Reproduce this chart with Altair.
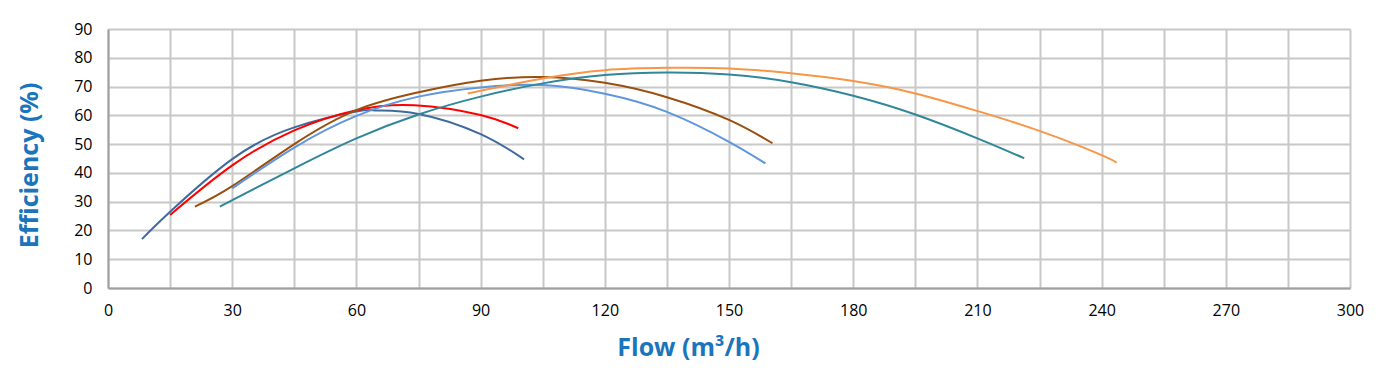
import altair as alt
import pandas as pd

# Flow (m3/h) / Efficiency (%) points per pump curve
db_x = [8.2, 15, 30, 45, 60, 65, 75, 90, 100.5]
db_y = [17.0, 26.5, 44.8, 55.8, 61.3, 61.7, 60.5, 53.5, 44.7]

red_x = [15.0, 30, 45, 60, 74, 90, 99.1]
red_y = [25.4, 42.6, 54.8, 61.8, 63.5, 60.1, 55.5]

brown_x = [21.0, 30, 45, 60, 75, 90, 105, 120, 135, 150, 160.5]
brown_y = [28.3, 35.4, 50.0, 61.8, 68.0, 72.0, 73.3, 71.3, 66.3, 58.4, 50.3]

lblue_x = [30.0, 45, 60, 75, 90, 105, 120, 135, 150, 158.8]
lblue_y = [34.6, 48.8, 59.8, 66.5, 69.7, 70.5, 67.5, 61.2, 50.8, 43.3]

teal_x = [27.0, 45, 60, 75, 90, 105, 120, 135, 150, 165, 180, 195, 210, 221.3]
teal_y = [28.3, 41.6, 52.0, 60.3, 66.5, 71.1, 74.0, 74.9, 74.2, 71.5, 66.8, 60.3, 52.0, 45.1]

orange_x = [86.9, 105, 120, 135, 150, 165, 180, 195, 210, 225, 240, 243.6]
orange_y = [67.6, 72.8, 75.7, 76.5, 76.3, 74.6, 71.9, 67.6, 61.5, 54.6, 46.2, 43.5]

series = ["S1", "S2", "S3", "S4", "S5", "S6"]
colors = ["#3F6A9C", "#FF0000", "#9A4F0F", "#5F96DE", "#31879A", "#F79646"]

x_ticks = list(range(0, 301, 15))
y_ticks = list(range(0, 91, 10))

rows = []
for name, xs, ys in zip(series,
                        [db_x, red_x, brown_x, lblue_x, teal_x, orange_x],
                        [db_y, red_y, brown_y, lblue_y, teal_y, orange_y]):
    for xv, yv in zip(xs, ys):
        rows.append({"series": name, "flow": xv, "eff": yv})
df = pd.DataFrame(rows)

title_color = "#1B75BC"

chart = alt.Chart(df).mark_line(strokeWidth=2, interpolate="natural").encode(
    x=alt.X("flow:Q",
            scale=alt.Scale(domain=[0, 300], nice=False),
            axis=alt.Axis(values=x_ticks, title="Flow (m³/h)",
                          labelExpr="datum.value % 30 == 0 ? datum.label : ''",
                          ticks=False, labelPadding=14, labelFont="Open Sans",
                          labelFontSize=16, labelColor="#000000",
                          gridColor="#C8C8C8", gridWidth=2,
                          domainColor="#A0A0A0", domainWidth=2,
                          titleFont="Open Sans", titleFontSize=25,
                          titleFontWeight="bold", titleColor=title_color,
                          titleX=580, titleY=59, titleAlign="center",
                          titleBaseline="middle", labelFlush=False)),
    y=alt.Y("eff:Q",
            scale=alt.Scale(domain=[0, 90], nice=False),
            axis=alt.Axis(values=y_ticks, title="Efficiency (%)",
                          ticks=False, labelPadding=16, labelFont="Open Sans",
                          labelFontSize=16, labelColor="#000000",
                          gridColor="#C8C8C8", gridWidth=2,
                          domainColor="#A0A0A0", domainWidth=2,
                          titleFont="Open Sans", titleFontSize=25,
                          titleFontWeight="bold", titleColor=title_color,
                          titleX=-79, titleY=136, titleAlign="center",
                          titleBaseline="middle", titleAngle=270,
                          labelFlush=False)),
    color=alt.Color("series:N", scale=alt.Scale(domain=series, range=colors),
                    legend=None),
).properties(
    width=1242,
    height=259,
    autosize=alt.AutoSizeParams(type="none"),
    padding={"left": 100, "top": 21, "right": 19, "bottom": 78},
).configure_view(strokeWidth=0)

chart.save("out.html", embed_options={"renderer": "svg", "actions": False})
